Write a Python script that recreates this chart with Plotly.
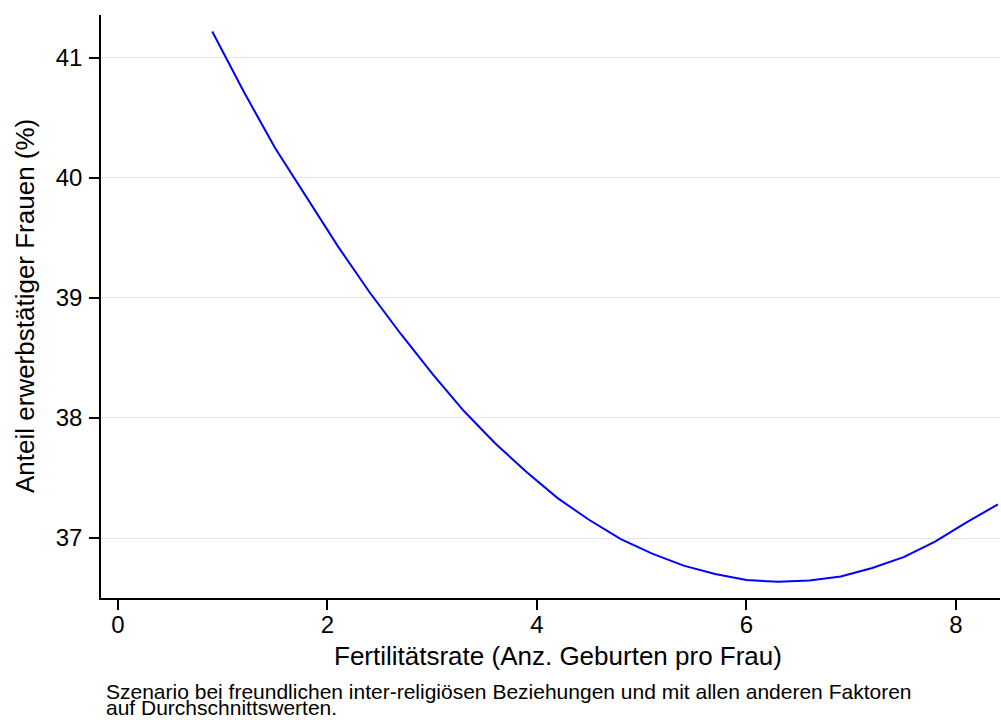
import plotly.graph_objects as go

# Predicted share of employed women across fertility rates
fertility = [0.9, 1.2, 1.5, 1.8, 2.1, 2.4, 2.7, 3.0, 3.3, 3.6, 3.9, 4.2, 4.5,
             4.8, 5.1, 5.4, 5.7, 6.0, 6.3, 6.6, 6.9, 7.2, 7.5, 7.8, 8.1, 8.4]
share_employed = [41.22, 40.72, 40.25, 39.84, 39.43, 39.05, 38.70, 38.37, 38.06,
                  37.79, 37.55, 37.33, 37.15, 36.99, 36.87, 36.77, 36.70, 36.65,
                  36.635, 36.645, 36.68, 36.75, 36.84, 36.97, 37.13, 37.28]

x_ticks = [0, 2, 4, 6, 8]
y_ticks = [37, 38, 39, 40, 41]

x_title = "Fertilitätsrate (Anz. Geburten pro Frau)"
y_title = "Anteil erwerbstätiger Frauen (%)"
note_lines = [
    "Szenario bei freundlichen inter-religiösen Beziehungen und mit allen anderen Faktoren",
    "auf Durchschnittswerten.",
]

FONT = "Arial, Liberation Sans, sans-serif"
W, H = 1001, 720
L, R, T, B = 101, 1, 15, 122
plot_h = H - T - B
plot_w = W - L - R


def py(pixel_y):
    return (H - B - pixel_y) / plot_h


def px(pixel_x):
    return (pixel_x - L) / plot_w


fig = go.Figure()
fig.add_trace(go.Scatter(
    x=fertility, y=share_employed, mode="lines",
    line=dict(color="#0000ff", width=2), hoverinfo="x+y", showlegend=False,
))

axis_common = dict(
    showline=True, linecolor="black", linewidth=1.5,
    ticks="outside", ticklen=10, tickwidth=1.5, tickcolor="black",
    tickfont=dict(family=FONT, size=24, color="black"),
    zeroline=False,
)

fig.update_xaxes(
    range=[-0.162, 8.42], tickvals=x_ticks, showgrid=False,
    ticklabelstandoff=-6, **axis_common,
)
fig.update_yaxes(
    range=[36.5, 41.358], tickvals=y_ticks, showgrid=True,
    gridcolor="#e6e6e6", gridwidth=1, ticklabelstandoff=2, **axis_common,
)

annotations = [
    dict(text=x_title, x=px(558), y=py(656), xref="paper", yref="paper",
         xanchor="center", yanchor="middle", showarrow=False,
         font=dict(family=FONT, size=26, color="black")),
    dict(text=y_title, x=px(25), y=py(306), xref="paper", yref="paper",
         xanchor="center", yanchor="middle", textangle=-90, showarrow=False,
         font=dict(family=FONT, size=26, color="black")),
]
for i, line in enumerate(note_lines):
    annotations.append(dict(
        text=line, x=px(104), y=py(691 + 16 * i), xref="paper", yref="paper",
        xanchor="left", yanchor="middle", showarrow=False,
        font=dict(family=FONT, size=21, color="black"),
    ))

fig.update_layout(
    width=W, height=H,
    margin=dict(l=L, r=R, t=T, b=B),
    paper_bgcolor="white", plot_bgcolor="white",
    annotations=annotations,
)

fig.write_html("out.html")
